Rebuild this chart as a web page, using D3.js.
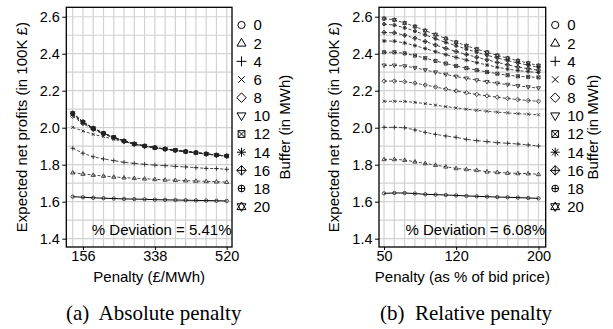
<!DOCTYPE html>
<html><head><meta charset="utf-8">
<script src="https://cdn.jsdelivr.net/npm/d3@7"></script>
<style>
html,body{margin:0;padding:0;background:#fff;}
svg{display:block;}
text{font-family:"Liberation Sans",Arial,sans-serif;fill:#000;}
.cap{font-family:"Liberation Serif","Times New Roman",serif;white-space:pre;}
</style></head>
<body>
<svg id="chart" width="613" height="329"></svg>
<script>
// ---------- data ----------
const buffers = [0, 2, 4, 6, 8, 10, 12, 14, 16, 18, 20];
const symbolNames = ["circle","triUp","plus","cross","diamond","triDown","squareX","asterisk","diamondPlus","circlePlus","star"];

const absPenalty = [130,156,182,208,234,260,286,312,338,364,390,416,442,468,494,520];
const absTicks = [156, 338, 520];
const absSeries = [
  [1.627,1.624,1.621,1.619,1.617,1.615,1.614,1.613,1.611,1.610,1.609,1.608,1.607,1.606,1.605,1.604],
  [1.757,1.750,1.744,1.739,1.734,1.730,1.727,1.724,1.721,1.718,1.716,1.714,1.712,1.710,1.708,1.706],
  [1.889,1.862,1.843,1.831,1.822,1.813,1.807,1.802,1.798,1.795,1.791,1.788,1.784,1.780,1.779,1.775],
  [2.002,1.982,1.964,1.952,1.937,1.925,1.912,1.901,1.891,1.884,1.877,1.870,1.864,1.857,1.852,1.846],
  [2.062,2.022,1.990,1.965,1.945,1.926,1.911,1.900,1.891,1.884,1.877,1.870,1.864,1.858,1.852,1.847],
  [2.070,2.027,1.994,1.968,1.947,1.927,1.912,1.901,1.892,1.885,1.878,1.871,1.865,1.858,1.852,1.847],
  [2.075,2.029,1.996,1.969,1.948,1.928,1.912,1.901,1.892,1.885,1.878,1.871,1.865,1.858,1.852,1.847],
  [2.077,2.030,1.997,1.970,1.948,1.928,1.912,1.901,1.892,1.885,1.878,1.871,1.865,1.858,1.852,1.847],
  [2.078,2.031,1.997,1.970,1.948,1.928,1.912,1.901,1.892,1.885,1.878,1.871,1.865,1.858,1.852,1.847],
  [2.079,2.031,1.997,1.970,1.948,1.928,1.912,1.901,1.892,1.885,1.878,1.871,1.865,1.858,1.852,1.847],
  [2.080,2.032,1.998,1.970,1.948,1.928,1.912,1.901,1.892,1.885,1.878,1.871,1.865,1.858,1.852,1.847]
];

const relPenalty = [50,60,70,80,90,100,110,120,130,140,150,160,170,180,190,200];
const relTicks = [50, 120, 200];
const relSeries = [
  [1.645,1.647,1.647,1.644,1.640,1.638,1.636,1.634,1.631,1.629,1.627,1.625,1.624,1.622,1.620,1.618],
  [1.829,1.829,1.825,1.816,1.807,1.798,1.789,1.780,1.775,1.770,1.762,1.759,1.755,1.753,1.752,1.748],
  [2.002,2.002,2.000,1.988,1.975,1.964,1.955,1.948,1.937,1.930,1.925,1.919,1.916,1.912,1.907,1.901],
  [2.143,2.143,2.142,2.137,2.130,2.122,2.114,2.107,2.100,2.094,2.089,2.084,2.080,2.076,2.073,2.070],
  [2.252,2.252,2.249,2.241,2.231,2.220,2.209,2.199,2.189,2.180,2.172,2.165,2.158,2.152,2.147,2.143],
  [2.337,2.337,2.333,2.324,2.312,2.300,2.288,2.277,2.267,2.257,2.248,2.240,2.233,2.226,2.220,2.214],
  [2.408,2.408,2.402,2.390,2.376,2.361,2.347,2.334,2.322,2.311,2.301,2.292,2.284,2.278,2.275,2.272],
  [2.469,2.468,2.458,2.444,2.428,2.411,2.395,2.380,2.366,2.352,2.339,2.327,2.317,2.309,2.303,2.298],
  [2.515,2.513,2.500,2.484,2.466,2.447,2.429,2.412,2.396,2.381,2.367,2.353,2.340,2.328,2.319,2.311],
  [2.560,2.555,2.540,2.522,2.502,2.481,2.461,2.443,2.425,2.408,2.392,2.377,2.363,2.350,2.338,2.326],
  [2.590,2.583,2.566,2.547,2.525,2.503,2.482,2.462,2.443,2.425,2.408,2.391,2.376,2.362,2.349,2.336]
];

const yTicks = [1.4, 1.6, 1.8, 2.0, 2.2, 2.4, 2.6];
const yGrid = [1.4,1.5,1.6,1.7,1.8,1.9,2.0,2.1,2.2,2.3,2.4,2.5,2.6];

const yTitle = "Expected net profits (in 100K £)";
const legendTitle = "Buffer (in MWh)";

const panels = [
  {x: absPenalty, ticks: absTicks, series: absSeries, xDomain: [113.8, 533.4], range: [66.3, 232],
   xTitle: "Penalty (£/MWh)", note: "% Deviation = 5.41%", caption: "(a)  Absolute penalty",
   capX: 153.7, yTitleX: 21.5, legTitleX: 285},
  {x: relPenalty, ticks: relTicks, series: relSeries, xDomain: [45.1, 207], range: [379, 545.7],
   xTitle: "Penalty (as % of bid price)", note: "% Deviation = 6.08%", caption: "(b)  Relative penalty",
   capX: 466, yTitleX: 333.5, legTitleX: 593}
];

// ---------- symbols ----------
function symPath(name, h) {
  const circ = (r) => `M${-r},0A${r},${r} 0 1,0 ${r},0A${r},${r} 0 1,0 ${-r},0`;
  const plus = (r) => `M${-r},0H${r}M0,${-r}V${r}`;
  const cross = (r) => `M${-r},${-r}L${r},${r}M${-r},${r}L${r},${-r}`;
  const dia = (r) => `M0,${-r}L${r},0L0,${r}L${-r},0Z`;
  const tu = (r) => `M0,${-r}L${r*0.95},${r*0.62}L${-r*0.95},${r*0.62}Z`;
  const td = (r) => `M0,${r}L${r*0.95},${-r*0.62}L${-r*0.95},${-r*0.62}Z`;
  switch (name) {
    case "circle": return circ(h*0.8);
    case "triUp": return tu(h*1.05);
    case "plus": return plus(h*1.1);
    case "cross": return cross(h*0.72);
    case "diamond": return dia(h*1.05);
    case "triDown": return td(h*1.05);
    case "squareX": { const r=h*0.75; return `M${-r},${-r}H${r}V${r}H${-r}Z` + cross(r); }
    case "asterisk": return plus(h*1.0) + cross(h*0.72);
    case "diamondPlus": return dia(h*1.05) + plus(h*1.05);
    case "circlePlus": return circ(h*0.75) + plus(h*0.75);
    case "star": return tu(h*1.05) + td(h*1.05);
  }
}

// ---------- drawing ----------
const svg = d3.select("#chart");
const yRange = [247, 7.3];
const y = d3.scaleLinear().domain([1.355, 2.651]).range(yRange);

panels.forEach((p) => {
  const x = d3.scaleLinear().domain(p.xDomain).range(p.range);
  const g = svg.append("g");
  const [x0, x1] = p.range;

  // grid
  g.append("g").selectAll("line.h").data(yGrid).join("line")
    .attr("x1", x0).attr("x2", x1).attr("y1", d => y(d)).attr("y2", d => y(d))
    .attr("stroke", "#d2d2d2").attr("stroke-width", 1.2);
  g.append("g").selectAll("line.v").data(p.x).join("line")
    .attr("x1", d => x(d)).attr("x2", d => x(d)).attr("y1", yRange[0]).attr("y2", yRange[1])
    .attr("stroke", "#d2d2d2").attr("stroke-width", 1.2);

  // series
  const line = d3.line().x((d, i) => x(p.x[i])).y(d => y(d));
  p.series.forEach((vals, si) => {
    const sg = g.append("g");
    sg.append("path").attr("d", line(vals)).attr("fill", "none")
      .attr("stroke", si === 0 ? "#000" : "#2a2a2a")
      .attr("stroke-width", si === 0 ? 1 : 0.85)
      .attr("stroke-dasharray", si === 0 ? null : "3,2");
    sg.selectAll("path.m").data(vals).join("path")
      .attr("transform", (d, i) => `translate(${x(p.x[i])},${y(d)})`)
      .attr("d", symPath(symbolNames[si], 2.1))
      .attr("fill", "none").attr("stroke", "#222").attr("stroke-width", 0.8);
  });

  // box
  g.append("rect").attr("x", x0).attr("y", yRange[1]).attr("width", x1 - x0)
    .attr("height", yRange[0] - yRange[1]).attr("fill", "none").attr("stroke", "#000").attr("stroke-width", 1.3);

  // axes
  const ya = d3.axisLeft(y).tickValues(yTicks).tickFormat(d3.format(".1f")).tickSize(4).tickPadding(2.5);
  const yg = g.append("g").attr("transform", `translate(${x0},0)`).call(ya);
  const xa = d3.axisBottom(x).tickValues(p.ticks).tickFormat(d3.format("d")).tickSize(3).tickPadding(1);
  const xg = g.append("g").attr("transform", `translate(0,${yRange[0]})`).call(xa);
  [yg, xg].forEach(a => {
    a.select(".domain").remove();
    a.selectAll(".tick line").attr("stroke", "#000");
    a.selectAll(".tick text").attr("font-size", 14.5).attr("font-family", '"Liberation Sans",Arial,sans-serif');
  });

  // titles
  g.append("text").attr("x", (x0 + x1) / 2).attr("y", 282).attr("text-anchor", "middle")
    .attr("font-size", 15).text(p.xTitle);
  g.append("text").attr("transform", `translate(${p.yTitleX},${(yRange[0] + yRange[1]) / 2}) rotate(-90)`)
    .attr("text-anchor", "middle").attr("dy", "0.35em").attr("font-size", 15).text(yTitle);
  g.append("text").attr("x", x1 - 0.5).attr("y", 235).attr("text-anchor", "end")
    .attr("font-size", 15).text(p.note);

  // legend
  const lg = g.append("g");
  buffers.forEach((b, i) => {
    const ly = 25 + i * 18.17;
    lg.append("path").attr("transform", `translate(${x1 + 9.5},${ly})`)
      .attr("d", symPath(symbolNames[i], 4.5)).attr("fill", "none").attr("stroke", "#000").attr("stroke-width", 1);
    lg.append("text").attr("x", x1 + 21.5).attr("y", ly).attr("dy", "0.36em")
      .attr("font-size", 15).text(b);
  });
  g.append("text").attr("transform", `translate(${p.legTitleX},${(yRange[0] + yRange[1]) / 2}) rotate(-90)`)
    .attr("text-anchor", "middle").attr("dy", "0.35em").attr("font-size", 15).text(legendTitle);

  // caption
  g.append("text").attr("class", "cap").attr("x", p.capX).attr("y", 320).attr("text-anchor", "middle")
    .attr("font-size", 21).text(p.caption);
});
</script>
</body></html>
